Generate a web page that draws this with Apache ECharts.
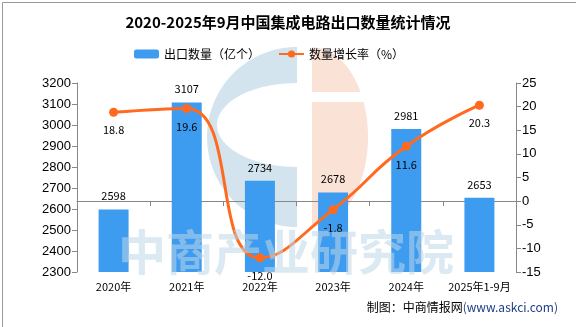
<!DOCTYPE html>
<html><head><meta charset="utf-8">
<script src="https://cdn.jsdelivr.net/npm/echarts@6/dist/echarts.min.js"></script>
<style>html,body{margin:0;padding:0;background:#fff}#c{width:576px;height:327px}</style>
</head><body><div id="c"></div>
<script>
const categories = ['2020年','2021年','2022年','2023年','2024年','2025年1-9月'];
const exportQty = [2598, 3107, 2734, 2678, 2981, 2653];
const growthRate = [18.8, 19.6, -12.0, -1.8, 11.6, 20.3];
const leftTicks = {min: 2300, max: 3200, interval: 100};
const rightTicks = {min: -15, max: 25, interval: 5};

// watermark logo outlines (decoration only)
function ellPts(cx, cy, rx, ry, a0, a1, n) {
  const pts = [];
  for (let i = 0; i <= n; i++) {
    const a = a0 + (a1 - a0) * i / n;
    pts.push([cx + rx * Math.cos(a), cy + ry * Math.sin(a)]);
  }
  return pts;
}
const blueC = ellPts(297, 137, 90, 90, -Math.PI / 2, -Math.PI * 1.5, 60)
  .concat(ellPts(297, 125, 80, 42, Math.PI / 2, Math.PI * 1.5, 40));
function orangePiece(yTop, yBot) {
  const pts = [];
  for (let i = 0; i <= 40; i++) {
    const y = yTop + (yBot - yTop) * i / 40;
    const t = (y - 137) / 90;
    pts.push([312 + 56 * Math.sqrt(Math.max(0, 1 - t * t)), y]);
  }
  pts.push([312, yBot]); pts.push([312, yTop]);
  return pts;
}

const chart = echarts.init(document.getElementById('c'));
const font = '"Noto Sans CJK SC", "DejaVu Sans", sans-serif';
const numFont = '"Liberation Sans", Arial, sans-serif';
chart.setOption({
  backgroundColor: '#fff',
  animation: false,
  textStyle: {fontFamily: font},
  title: {
    text: '2020-2025年9月中国集成电路出口数量统计情况',
    left: 'center', top: 10,
    textStyle: {fontSize: 15, fontWeight: 'bold', color: '#000', fontFamily: font}
  },
  legend: {
    left: 129, top: 43,
    itemWidth: 25, itemHeight: 9, itemGap: 18,
    textStyle: {fontSize: 12, color: '#000'},
    data: ['出口数量（亿个）', '数量增长率（%）']
  },
  graphic: [
    {type: 'rect', left: 0, top: 0, shape: {x: 0.5, y: 0.5, width: 575, height: 325}, style: {fill: 'none', stroke: '#999', lineWidth: 1}, z: 100},
    {type: 'polygon', shape: {points: blueC}, style: {fill: '#d3e4ee'}, z: -10},
    {type: 'polygon', shape: {points: orangePiece(47, 92)}, style: {fill: '#fbe2d7'}, z: -10},
    {type: 'polygon', shape: {points: orangePiece(102, 227)}, style: {fill: '#fbe2d7'}, z: -10},
    {type: 'text', left: 118, top: 228, style: {text: '中商产业研究院', font: 'bold 48px "Noto Sans CJK SC"', fill: 'rgba(190,215,232,0.55)', letterSpacing: 2}, z: 50},
    {type: 'text', right: 18, top: 301, style: {
      rich: {a: {fontSize: 12, fill: '#000', fontFamily: font}, b: {fontSize: 12, fill: '#1f3d8a', fontFamily: font}},
      text: '{a|制图：中商情报网}{b|(www.askci.com)}'}, z: 100}
  ],
  grid: {left: 77, right: 60, top: 83, bottom: 55},
  xAxis: {
    type: 'category', data: categories,
    axisLine: {lineStyle: {color: '#888'}},
    axisTick: {show: true, alignWithLabel: false, lineStyle: {color: '#888'}},
    axisLabel: {fontSize: 11, color: '#000', margin: 9, interval: 0}
  },
  yAxis: [
    {type: 'value', min: leftTicks.min, max: leftTicks.max, interval: leftTicks.interval,
     axisLine: {show: true, lineStyle: {color: '#888'}},
     axisTick: {show: true, lineStyle: {color: '#888'}},
     axisLabel: {fontSize: 13, color: '#000', margin: 6, fontFamily: numFont, formatter: v => String(v)},
     splitLine: {show: false}},
    {type: 'value', min: rightTicks.min, max: rightTicks.max, interval: rightTicks.interval,
     axisLine: {show: true, lineStyle: {color: '#888'}},
     axisTick: {show: true, lineStyle: {color: '#888'}},
     axisLabel: {fontSize: 13, color: '#000', margin: 6, fontFamily: numFont, formatter: v => String(v)},
     splitLine: {show: false}}
  ],
  series: [
    {name: '出口数量（亿个）', type: 'bar', data: exportQty, barWidth: 30,
     itemStyle: {color: '#3d9cf0'},
     label: {show: true, position: 'top', fontSize: 11, color: '#000', distance: 8}},
    {name: '数量增长率（%）', type: 'line', yAxisIndex: 1, data: growthRate, smooth: true,
     symbol: 'circle', symbolSize: 9,
     lineStyle: {color: '#ff6a1f', width: 3},
     itemStyle: {color: '#ff6a1f'},
     label: {show: true, position: 'bottom', fontSize: 11, color: '#000', distance: 8,
       formatter: p => p.value.toFixed(1)}}
  ]
});
</script></body></html>
